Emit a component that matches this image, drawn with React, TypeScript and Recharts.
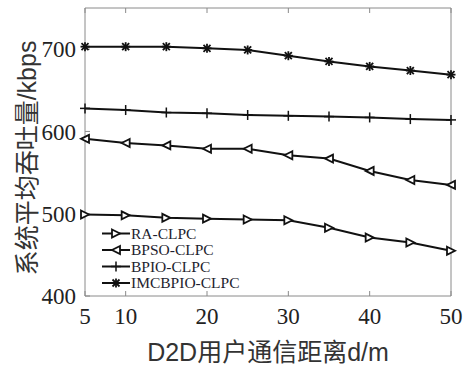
import { LineChart, Line, XAxis, YAxis } from 'recharts'

const distances = [5, 10, 15, 20, 25, 30, 35, 40, 45, 50]
const raClpc = [499, 498, 495, 494, 493, 492, 483, 471, 465, 455]
const bpsoClpc = [591, 586, 583, 579, 579, 571, 567, 552, 541, 535]
const bpioClpc = [628, 626, 623, 622, 620, 619, 618, 617, 615, 614]
const imcbpioClpc = [703, 703, 703, 701, 699, 692, 685, 679, 674, 669]

const xTicks = [5, 10, 20, 30, 40, 50]
const yTicks = [400, 500, 600, 700]

const rows = distances.map((d, i) => ({
  d,
  ra: raClpc[i],
  bpso: bpsoClpc[i],
  bpio: bpioClpc[i],
  imcbpio: imcbpioClpc[i],
}))

const INK = '#111'
const AXIS = '#8a8a8a'
const SERIF = '"Liberation Serif", "Times New Roman", serif'
const SANS = '"Liberation Sans", "Noto Sans CJK SC", sans-serif'

type MarkKind = 'right' | 'left' | 'plus' | 'star'

function Mark({ kind, cx, cy }: { kind: MarkKind; cx: number; cy: number }) {
  if (kind === 'right') {
    return <polygon points={`${cx - 4},${cy - 4} ${cx + 4},${cy} ${cx - 4},${cy + 4}`} fill="#fff" stroke={INK} strokeWidth={1.8} />
  }
  if (kind === 'left') {
    return <polygon points={`${cx + 4},${cy - 4} ${cx - 4},${cy} ${cx + 4},${cy + 4}`} fill="#fff" stroke={INK} strokeWidth={1.8} />
  }
  if (kind === 'plus') {
    return (
      <g stroke={INK} strokeWidth={1.5}>
        <line x1={cx} y1={cy - 5} x2={cx} y2={cy + 5} />
        <line x1={cx - 5} y1={cy} x2={cx + 5} y2={cy} />
      </g>
    )
  }
  return (
    <g stroke={INK} strokeWidth={1.8}>
      <line x1={cx - 4.5} y1={cy} x2={cx + 4.5} y2={cy} />
      <line x1={cx} y1={cy - 4.5} x2={cx} y2={cy + 4.5} />
      <line x1={cx - 3.5} y1={cy - 3.5} x2={cx + 3.5} y2={cy + 3.5} />
      <line x1={cx - 3.5} y1={cy + 3.5} x2={cx + 3.5} y2={cy - 3.5} />
    </g>
  )
}

const series: { key: string; name: string; kind: MarkKind }[] = [
  { key: 'ra', name: 'RA-CLPC', kind: 'right' },
  { key: 'bpso', name: 'BPSO-CLPC', kind: 'left' },
  { key: 'bpio', name: 'BPIO-CLPC', kind: 'plus' },
  { key: 'imcbpio', name: 'IMCBPIO-CLPC', kind: 'star' },
]

function makeDot(kind: MarkKind) {
  return (props: { cx?: number; cy?: number; index?: number }) => {
    if (props.cx == null || props.cy == null) return <g key={props.index} />
    return <g key={props.index}><Mark kind={kind} cx={props.cx} cy={props.cy} /></g>
  }
}

function LegendBox() {
  return (
    <svg width={170} height={70} style={{ position: 'absolute', left: 95, top: 222 }}>
      {series.map((s, i) => {
        const y = 11.5 + i * 16.5
        return (
          <g key={s.key}>
            <line x1={7} y1={y} x2={35} y2={y} stroke={INK} strokeWidth={2} />
            <Mark kind={s.kind} cx={21} cy={y} />
            <text x={36} y={y} dy="0.35em" fontFamily={SERIF} fontSize={15.5} fill="#1e1e2e">{s.name}</text>
          </g>
        )
      })}
    </svg>
  )
}

export default function App() {
  return (
    <div style={{ position: 'absolute', left: 0, top: 0, width: 463, height: 367, background: '#fff' }}>
      <LineChart width={463} height={367} data={rows} margin={{ top: 7, right: 11, left: 0, bottom: 0 }}>
        <XAxis
          xAxisId="bottom" type="number" dataKey="d" domain={[5, 50]} ticks={xTicks}
          height={71} stroke={AXIS} tickSize={-5} tickMargin={17}
          tick={{ fontSize: 23, fontFamily: SERIF, fill: '#222' }}
          label={{
            content: () => (
              <text x={268} y={352} dominantBaseline="central" textAnchor="middle" fontFamily={SANS} fontSize={25} fill="#333">
                D2D用户通信距离d/m
              </text>
            ),
          }}
        />
        <XAxis
          xAxisId="top" orientation="top" type="number" dataKey="d" domain={[5, 50]} ticks={xTicks}
          height={1} stroke={AXIS} tickSize={-5} tickFormatter={() => ''}
        />
        <YAxis
          yAxisId="left" type="number" domain={[400, 750]} ticks={yTicks}
          width={85} stroke={AXIS} tickSize={-5} tickMargin={14}
          tick={{ fontSize: 23, fontFamily: SERIF, fill: '#222' }}
          label={{
            content: () => (
              <text x={27} y={158} transform="rotate(-90 27 158)" dominantBaseline="central" textAnchor="middle" fontFamily={SANS} fontSize={25} fill="#333">
                系统平均吞吐量/kbps
              </text>
            ),
          }}
        />
        <YAxis
          yAxisId="right" orientation="right" type="number" domain={[400, 750]} ticks={yTicks}
          width={1} stroke={AXIS} tickSize={-5} tickFormatter={() => ''}
        />
        {series.map(s => (
          <Line
            key={s.key} xAxisId="bottom" yAxisId="left" dataKey={s.key} name={s.name}
            stroke={INK} strokeWidth={2} dot={makeDot(s.kind)} activeDot={false}
            isAnimationActive={false} type="linear"
          />
        ))}
      </LineChart>
      <LegendBox />
    </div>
  )
}
